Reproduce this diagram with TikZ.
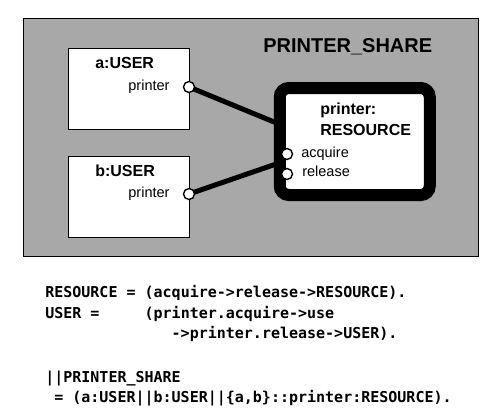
\documentclass[tikz,border=0pt]{standalone}
\usepackage{fontspec}
\setmainfont{Liberation Sans}
\setmonofont{DejaVu Sans Mono}
\usepackage{tikz}
\usetikzlibrary{positioning,backgrounds}
\usepackage{xcolor}
\definecolor{sharegray}{RGB}{168,168,168}

\begin{document}
\begin{tikzpicture}[x=1pt,y=-1pt,semithick]
  \tikzstyle{userbox}=[draw,fill=white,minimum width=121pt,minimum height=81pt,inner sep=0pt]
  \tikzstyle{resbox}=[draw,line width=12pt,rounded corners=9pt,fill=white,minimum width=150pt,minimum height=107pt]
  \tikzstyle{port}=[circle,draw,fill=white,line width=1.4pt,minimum size=11pt,inner sep=0pt]
  \tikzstyle{boxtitle}=[font=\fontsize{16}{19}\selectfont\bfseries,inner sep=0pt,anchor=base west]
  \tikzstyle{portname}=[font=\fontsize{14.5}{17}\selectfont,inner sep=0pt]
  \tikzstyle{wire}=[line width=5pt]
  \tikzstyle{codeline}=[font=\ttfamily\bfseries\fontsize{15}{18}\selectfont,inner sep=0pt,anchor=base west]

  \useasboundingbox (0,0) rectangle (502,418);

  % composite process
  \begin{scope}[on background layer]
    \node[draw,fill=sharegray,minimum width=455pt,minimum height=238pt] (share) at (250.5,137) {};
  \end{scope}
  \node[boxtitle,font=\fontsize{20}{24}\selectfont\bfseries] (sharename) at (263,52) {PRINTER\_SHARE};

  % users
  \node[userbox]   (a) at (128.5,88.5)  {};
  \node[userbox]   (b) at (128.5,196.5) {};
  \node[boxtitle]  (aname) at (95,68)  {a:USER};
  \node[boxtitle]  (bname) at (95,176) {b:USER};
  \node[port]      (pa) at (189,87)  {};
  \node[port]      (pb) at (189,194) {};
  \node[portname]  (pal) [left=13pt of pa] {printer};
  \node[portname]  (pbl) [left=13pt of pb] {printer};

  % shared resource
  \node[resbox]    (res) at (354.75,141.5) {};
  \node[boxtitle]  (resname1) at (320,114) {printer:};
  \node[boxtitle]  (resname2) at (320,135) {RESOURCE};
  \node[port]      (acq) at (287,154) {};
  \node[port]      (rel) at (287,174) {};
  \node[portname,anchor=base west] (acql) at (301,157) {acquire};
  \node[portname,anchor=base west] (rell) at (302,176) {release};

  \coordinate (ta) at (279,124);
  \coordinate (tb) at (279,163);
  \begin{scope}[on background layer]
    \draw[wire] (pa.center) -- (ta);
    \draw[wire] (pb.center) -- (tb);
  \end{scope}

  % FSP text
  \node[codeline] (code1) at (45,297) {RESOURCE = (acquire->release->RESOURCE).};
  \node[codeline] (code2) at (45,318) {USER =~~~~~(printer.acquire->use};
  \node[codeline] (code3) at (171.4,338) {->printer.release->USER).};
  \node[codeline] (code4) at (45,382) {||PRINTER\_SHARE};
  \node[codeline] (code5) at (54,402) {= (a:USER||b:USER||\{a,b\}::printer:RESOURCE).};
\end{tikzpicture}
\end{document}
